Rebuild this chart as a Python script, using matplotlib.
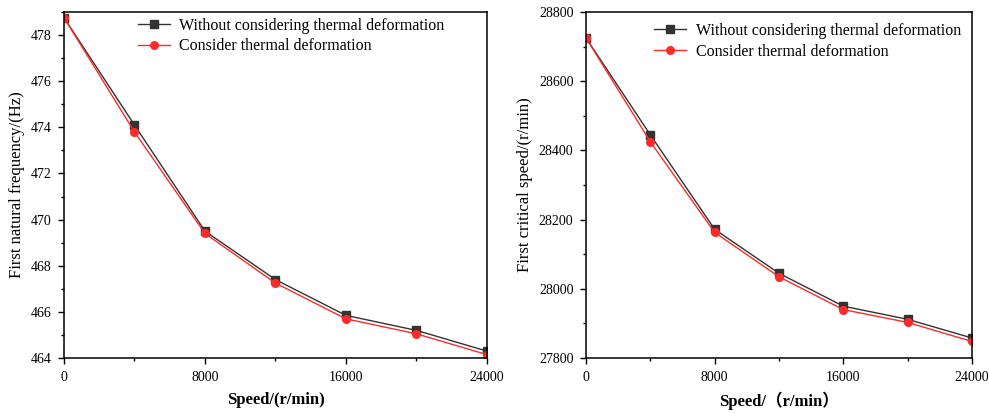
import matplotlib.pyplot as plt
from matplotlib.ticker import MultipleLocator

speed = [0, 4000, 8000, 12000, 16000, 20000, 24000]

freq_no_thermal = [478.75, 474.1, 469.5, 467.4, 465.85, 465.2, 464.3]
freq_thermal = [478.75, 473.8, 469.4, 467.25, 465.7, 465.05, 464.15]

crit_no_thermal = [28725, 28445, 28172, 28045, 27950, 27912, 27858]
crit_thermal = [28725, 28425, 28163, 28035, 27940, 27903, 27848]

lab1 = 'Without considering thermal deformation'
lab2 = 'Consider thermal deformation'

plt.rcParams['font.family'] = ['Liberation Serif', 'Noto Sans CJK SC']

fig = plt.figure(figsize=(9.89, 4.13), dpi=100)
ax1 = fig.add_axes([0.0647, 0.133, 0.4277, 0.838])
ax2 = fig.add_axes([0.5925, 0.133, 0.3903, 0.838])


def style(ax):
    ax.set_xlim(0, 24000)
    ax.xaxis.set_major_locator(MultipleLocator(8000))
    ax.xaxis.set_minor_locator(MultipleLocator(4000))
    ax.tick_params(which='major', length=4, width=1, labelsize=10, direction='out', pad=5)
    ax.tick_params(which='minor', length=2.5, width=1, direction='out')
    for s in ax.spines.values():
        s.set_linewidth(1.1)


for ax, a, b in [(ax1, freq_no_thermal, freq_thermal), (ax2, crit_no_thermal, crit_thermal)]:
    ax.plot(speed, a, color='#333333', lw=1, marker='s', ms=5.5, label=lab1)
    ax.plot(speed, b, color='#ff2a2a', lw=1, marker='o', ms=5.5, label=lab2)
    style(ax)

ax1.set_ylim(464, 479)
ax1.yaxis.set_major_locator(MultipleLocator(2))
ax1.yaxis.set_minor_locator(MultipleLocator(1))
ax1.set_xlabel('Speed/(r/min)', fontsize=12, fontweight='bold', labelpad=6)
ax1.set_ylabel('First natural frequency/(Hz)', fontsize=12, labelpad=4)
ax1.legend(loc='upper left', bbox_to_anchor=(0.14, 1.025), frameon=False,
           fontsize=11.5, handlelength=2.0, handletextpad=0.6, labelspacing=0.3)

ax2.set_ylim(27800, 28800)
ax2.yaxis.set_major_locator(MultipleLocator(200))
ax2.yaxis.set_minor_locator(MultipleLocator(100))
ax2.set_xlabel('Speed/（r/min）', fontsize=12, fontweight='bold', labelpad=6)
ax2.set_ylabel('First critical speed/(r/min)', fontsize=12, labelpad=4)
ax2.legend(loc='upper left', bbox_to_anchor=(0.14, 1.01), frameon=False,
           fontsize=11.5, handlelength=2.0, handletextpad=0.6, labelspacing=0.3)

fig.savefig('out.png', dpi=100)
